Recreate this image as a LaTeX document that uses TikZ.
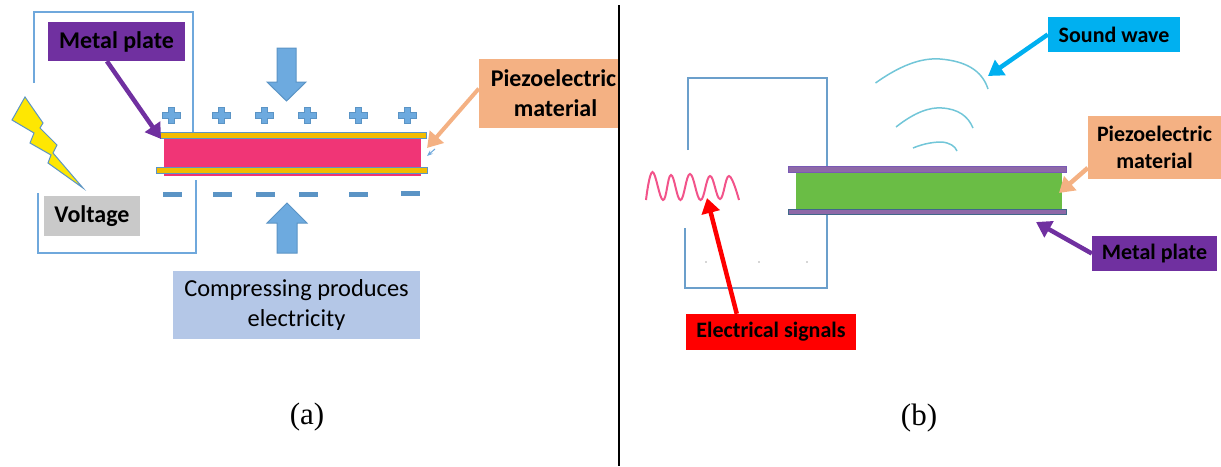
\documentclass[tikz,border=0pt]{standalone}
\usepackage{fontspec}
\setmainfont{Carlito}
\newfontfamily\capfont{Liberation Serif}
\usetikzlibrary{arrows.meta, positioning, calc}
\definecolor{wireBlue}{HTML}{6FA8DC}
\definecolor{signBlue}{HTML}{5B94C5}
\definecolor{blockBlue}{HTML}{6DAADF}
\definecolor{metalPurple}{HTML}{7030A0}
\definecolor{piezoOrange}{HTML}{F4B183}
\definecolor{pinkCore}{HTML}{F03576}
\definecolor{greenCore}{HTML}{6ABD45}
\definecolor{plateGold}{HTML}{F2BC00}
\definecolor{plateViolet}{HTML}{8E69A8}
\definecolor{skyBlue}{HTML}{00B0F0}
\definecolor{waveTeal}{HTML}{72C6D8}
\definecolor{noteBlue}{HTML}{B4C7E7}
\definecolor{noteGrey}{HTML}{C9C9C9}

\begin{document}
\begin{tikzpicture}[
  x=1pt, y=-1pt,
  tagbox/.style={rectangle, inner sep=0pt, align=center, text=black,
    font=\fontsize{24}{30}\selectfont\bfseries},
  tagsmall/.style={tagbox, font=\fontsize{22}{26.5}\selectfont\bfseries},
  plate/.style={rectangle, inner sep=0pt, line width=1pt},
  wire/.style={draw=wireBlue, line width=1.4pt},
  wireb/.style={draw=signBlue!90!white, line width=1.4pt},
  pointer/.style={line width=4.5pt, -{Triangle[length=15pt,width=18pt]}},
  block/.style={fill=blockBlue, draw=signBlue, line width=1pt},
  soundarc/.style={draw=waveTeal, line width=1.5pt},
  caption/.style={inner sep=0pt, font=\capfont\fontsize{31}{34}\selectfont}
]
\useasboundingbox (0,0) rectangle (1221,466);

% left panel
\draw[wire] (34,83) -- (34,12) -- (193,12) -- (193,133);
\draw[wire] (38,193) -- (38,253) -- (196,253) -- (196,180);

\node[plate, fill=pinkCore, minimum width=257pt, minimum height=37pt] (coreA) at (292.5,157.5) {};
\node[plate, fill=plateGold, draw=signBlue, minimum width=266pt, minimum height=5.5pt] (topPlateA) at (293,135.5) {};
\node[plate, fill=plateGold, draw=signBlue, minimum width=271pt, minimum height=5.5pt] (botPlateA) at (291.5,170.5) {};

\foreach \px in {171,221,264,307,358,407} {
  \fill[blockBlue, draw=signBlue, line width=0.8pt] (\px-9,115-3) rectangle (\px+9,115+3);
  \fill[blockBlue, draw=signBlue, line width=0.8pt] (\px-3,115-8) rectangle (\px+3,115+8);
  \fill[blockBlue] (\px-8,115-2.5) rectangle (\px+8,115+2.5);
}
\foreach \px/\py in {172/194.5,222/194.5,265/194.5,308/194.5,358/194.5,410/193}
  \fill[signBlue] (\px-9.5,\py-2.5) rectangle (\px+9.5,\py+2.5);

\draw[block] (277,48) -- (296,48) -- (296,82) -- (306,82) -- (286.5,101) -- (267,82) -- (277,82) -- cycle;
\draw[block] (277,253) -- (297,253) -- (297,223) -- (307,223) -- (287,203) -- (267,223) -- (277,223) -- cycle;

\draw[fill=yellow!90!orange, draw=signBlue, line width=1pt] (25,97) -- (43,123) -- (40,128) -- (57,145) -- (53,153)
  -- (83,188) -- (48,163) -- (51,155) -- (30,143) -- (34,133) -- (12,120) -- cycle;

\node[tagbox, fill=metalPurple, minimum width=137pt, minimum height=39pt] (metalA) at (116.5,41.5) {Metal plate};
\node[tagbox, fill=noteGrey, minimum width=96pt, minimum height=40pt] (voltage) at (92,216) {Voltage};
\node[tagbox, fill=piezoOrange, minimum width=139pt, minimum height=69pt, text width=139pt] (piezoA) at (548.5,93.5) {\hspace*{10pt}Piezoelectric\\\hspace*{14pt}material};
\node[tagbox, fill=noteBlue, minimum width=247pt, minimum height=68pt, font=\fontsize{24.4}{30}\selectfont] (compress) at (296.5,305) {Compressing produces\\electricity};

\coordinate (metalTipA) at (161,139);
\coordinate (piezoTipA) at (427,148);
\coordinate (piezoTickA) at (435,149);
\coordinate (piezoTickB) at (427,156);
\draw[pointer, metalPurple] (metalA.244) -- (metalTipA);
\draw[wireBlue, line width=1pt, -{Stealth[length=6pt]}] (piezoTickA) -- (piezoTickB);
\draw[pointer, piezoOrange, line width=4pt] (piezoA.176) -- (piezoTipA);

\node[caption] (capA) at (307,417) {(a)};

% divider
\coordinate (divTop) at (618.5,5);
\coordinate (divBot) at (618.5,466);
\draw[black, line width=2pt] (divTop) -- (divBot);

% right panel
\draw[wireb] (688,150) -- (688,78) -- (827,78) -- (827,166);
\draw[wireb] (685,228) -- (685,288) -- (827,288) -- (827,215);
\foreach \px in {706,759,807}
  \fill[black!70] (\px,262) circle (0.7pt);

\draw[soundarc] (875.5,83) .. controls (905,62) and (925,58) .. (940,59) .. controls (965,61) and (982,70) .. (988,89);
\draw[soundarc] (896,127) .. controls (915,112) and (930,107) .. (942,108) .. controls (958,109) and (968,116) .. (973,128);
\draw[soundarc] (913,148) .. controls (925,143) and (935,142) .. (942,142) .. controls (950,143) and (955,146) .. (957,151);

\node[plate, fill=greenCore, minimum width=266pt, minimum height=37pt] (coreB) at (929,190.5) {};
\node[plate, fill=plateViolet, draw=plateViolet!85!blue, minimum width=278pt, minimum height=6pt] (topPlateB) at (927,169) {};
\node[plate, fill=plateViolet, draw=signBlue!70!black, minimum width=278pt, minimum height=5pt] (botPlateB) at (927,212) {};

\draw[pinkCore!85!white, line width=2pt] plot[smooth, tension=0.7] coordinates {
  (646,200) (652.5,172) (663,200) (671,175) (680.5,200) (690,174) (700.5,200) (710,176) (720,199) (729,176) (739,200)};

\node[tagsmall, fill=skyBlue, minimum width=132pt, minimum height=35pt] (sound) at (1114,34.5) {Sound wave};
\node[tagsmall, fill=piezoOrange, minimum width=133pt, minimum height=63pt] (piezoB) at (1154.5,147.5) {Piezoelectric\\material};
\node[tagsmall, fill=metalPurple, minimum width=125pt, minimum height=35pt] (metalB) at (1154.5,253.5) {Metal plate};
\node[tagsmall, fill=red, minimum width=170pt, minimum height=36pt] (signals) at (771,332) {Electrical signals};

\coordinate (soundTip) at (988,76);
\coordinate (piezoTipB) at (1059,193);
\coordinate (metalTipB) at (1036,222);
\coordinate (signalTip) at (707,198);
\draw[pointer, skyBlue] (sound.west) -- (soundTip);
\draw[pointer, piezoOrange] (piezoB.197) -- (piezoTipB);
\draw[pointer, metalPurple] (metalB.west) -- (metalTipB);
\draw[pointer, red] (signals.152) -- (signalTip);

\node[caption] (capB) at (919,418) {(b)};
\end{tikzpicture}
\end{document}
